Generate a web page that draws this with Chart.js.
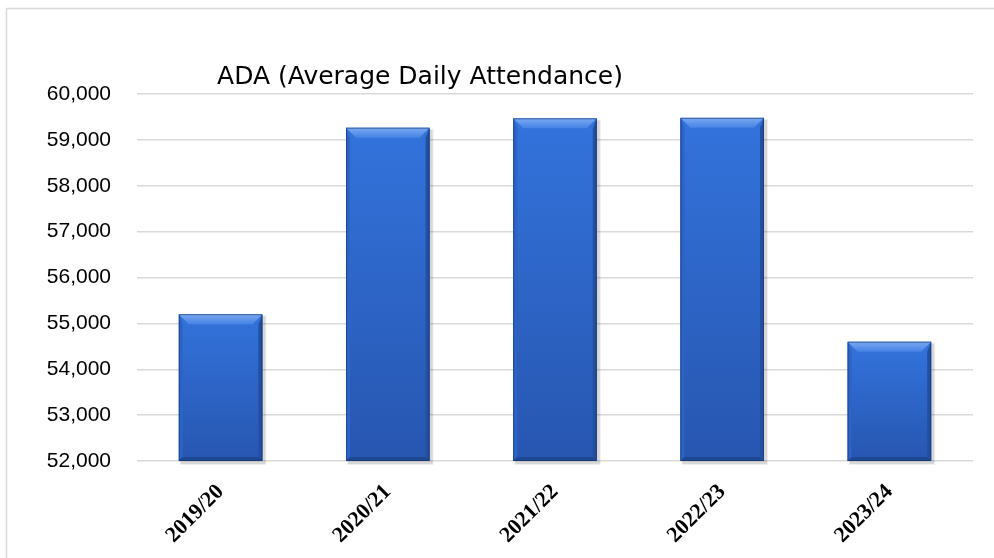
<!DOCTYPE html>
<html>
<head>
<meta charset="utf-8">
<script src="https://cdn.jsdelivr.net/npm/chart.js@4/dist/chart.umd.min.js"></script>
<style>
html,body{margin:0;padding:0;background:#fff;}
#wrap{width:994px;height:558px;position:relative;}
</style>
</head>
<body>
<div id="wrap"><canvas id="c" width="994" height="558"></canvas></div>
<script>
const chartTitle = "ADA (Average Daily Attendance)";
const categories = ["2019/20", "2020/21", "2021/22", "2022/23", "2023/24"];
const adaValues = [55200, 59265, 59470, 59480, 54600];
const yMin = 52000, yMax = 60000, yStep = 1000;

const framePlugin = {
  id: 'frame',
  beforeDraw(chart) {
    const ctx = chart.ctx;
    ctx.save();
    ctx.fillStyle = '#ffffff';
    ctx.fillRect(0, 0, chart.width, chart.height);
    ctx.strokeStyle = '#d9d9d9';
    ctx.lineWidth = 1.5;
    ctx.strokeRect(6.5, 8.5, chart.width + 20, chart.height + 20);
    ctx.restore();
  },
  afterDraw(chart) {
    const ctx = chart.ctx;
    ctx.save();
    ctx.fillStyle = '#000';
    ctx.font = '25px "DejaVu Sans", sans-serif';
    ctx.textAlign = 'center';
    ctx.textBaseline = 'alphabetic';
    ctx.fillText(chartTitle, 420, 84);
    ctx.restore();
  }
};

const bevelPlugin = {
  id: 'bevel',
  beforeDatasetsDraw(chart) {
    const ctx = chart.ctx;
    const meta = chart.getDatasetMeta(0);
    const bottom = chart.chartArea.bottom;
    ctx.save();
    meta.data.forEach(bar => {
      const l = bar.x - bar.width / 2, r = bar.x + bar.width / 2;
      const t = bar.y, b = Math.min(bar.base, bottom);
      ctx.fillStyle = 'rgba(0,0,0,0.10)';
      ctx.fillRect(l + 2, t + 2, r - l + 1, b - t + 1);
      ctx.fillStyle = 'rgba(0,0,0,0.06)';
      ctx.fillRect(l + 1, t + 1, r - l + 3, b - t + 3);
    });
    ctx.restore();
    return true;
  },
  afterDatasetsDraw(chart) {
    const ctx = chart.ctx;
    const meta = chart.getDatasetMeta(0);
    const bottom = chart.chartArea.bottom;
    ctx.save();
    meta.data.forEach(bar => {
      const l = bar.x - bar.width / 2, r = bar.x + bar.width / 2;
      const t = bar.y, b = Math.min(bar.base, bottom);
      const bv = 10, sv = 4;
      const g = ctx.createLinearGradient(0, t, 0, b);
      g.addColorStop(0, '#3373dc');
      g.addColorStop(1, '#2756b0');
      ctx.fillStyle = g;
      ctx.fillRect(l, t, r - l, b - t);
      const gt = ctx.createLinearGradient(0, t, 0, t + bv);
      gt.addColorStop(0, '#7aa9f2');
      gt.addColorStop(1, '#4683e4');
      ctx.fillStyle = gt;
      ctx.beginPath();
      ctx.moveTo(l, t); ctx.lineTo(r, t); ctx.lineTo(r - bv, t + bv); ctx.lineTo(l + bv, t + bv); ctx.closePath();
      ctx.fill();
      ctx.fillStyle = '#2c63c4';
      ctx.beginPath();
      ctx.moveTo(l, t); ctx.lineTo(l + sv, t + bv); ctx.lineTo(l + sv, b - sv); ctx.lineTo(l, b); ctx.closePath();
      ctx.fill();
      ctx.fillStyle = '#234f9e';
      ctx.beginPath();
      ctx.moveTo(r, t); ctx.lineTo(r - sv, t + bv); ctx.lineTo(r - sv, b - sv); ctx.lineTo(r, b); ctx.closePath();
      ctx.fill();
      ctx.fillStyle = '#1f4894';
      ctx.beginPath();
      ctx.moveTo(l, b); ctx.lineTo(l + sv, b - sv); ctx.lineTo(r - sv, b - sv); ctx.lineTo(r, b); ctx.closePath();
      ctx.fill();
      ctx.strokeStyle = 'rgba(20,50,110,0.6)';
      ctx.lineWidth = 1;
      ctx.strokeRect(l + 0.5, t + 0.5, r - l - 1, b - t - 1);
    });
    ctx.restore();
  }
};

new Chart(document.getElementById('c'), {
  type: 'bar',
  data: {
    labels: categories,
    datasets: [{
      label: 'ADA',
      data: adaValues,
      backgroundColor: 'rgba(0,0,0,0)',
      borderWidth: 0,
      barPercentage: 0.5,
      categoryPercentage: 1.0
    }]
  },
  options: {
    responsive: false,
    animation: false,
    devicePixelRatio: 1,
    layout: { padding: { top: 94, right: 21, left: 0, bottom: 0 } },
    plugins: { legend: { display: false }, title: { display: false }, tooltip: { enabled: false } },
    scales: {
      x: {
        grid: { display: false, drawTicks: false },
        border: { display: false },
        afterFit(s) { s.height = 97; },
        ticks: {
          minRotation: 45, maxRotation: 45, padding: 18,
          color: '#000',
          font: { family: '"Liberation Serif", serif', size: 22, weight: 'bold' }
        }
      },
      y: {
        min: yMin, max: yMax,
        afterFit(s) { s.width = 137; },
        grid: { color: '#d9d9d9', lineWidth: 1.5, drawTicks: false },
        border: { display: false },
        ticks: {
          stepSize: yStep, padding: 26, color: '#000',
          font: { family: '"Liberation Sans", Arial, sans-serif', size: 21 },
          callback: v => v.toLocaleString('en-US')
        }
      }
    }
  },
  plugins: [framePlugin, bevelPlugin]
});
</script>
</body>
</html>
